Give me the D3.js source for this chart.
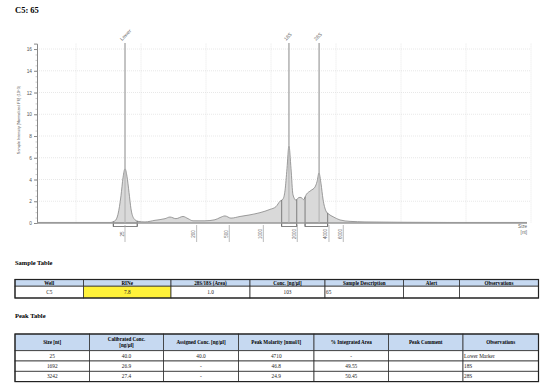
<!DOCTYPE html>
<html><head><meta charset="utf-8">
<script src="https://cdn.jsdelivr.net/npm/d3@7"></script>
<style>body{margin:0;background:#fff}</style>
</head><body>
<svg id="c" width="560" height="392"></svg>
<script>
// ---------- data ----------
const title = "C5: 65";
const traceTime  = [17.0,18.77,21.08,22.62,23.0,23.23,23.46,23.62,23.77,23.92,24.08,24.23,24.46,24.77,25.31,26.08,26.85,27.23,27.69,28.23,28.62,29.0,29.92,30.69,31.08,31.46,31.92,32.62,33.38,34.15,34.92,35.38,35.69,35.92,36.08,36.23,36.38,36.54,36.69,36.92,37.15,37.31,37.5,37.73,38.08,38.38,38.54,38.69,38.85,39.0,39.23,39.46,39.77,40.31,41.08,42.23,44.92,48.77,52.62,54.69];
const traceValue = [0.05,0.05,0.05,0.05,0.2,0.8,2.5,4.2,5.0,4.3,2.8,1.3,0.4,0.15,0.1,0.25,0.4,0.55,0.4,0.6,0.4,0.2,0.2,0.3,0.5,0.65,0.45,0.6,0.75,0.95,1.25,1.5,2.0,2.2,3.0,5.0,7.1,5.0,2.6,2.1,2.35,2.35,2.15,2.65,3.0,3.3,3.8,4.6,3.6,2.2,1.1,0.8,0.58,0.28,0.15,0.1,0.07,0.05,0.05,0.05];
const ladderSizes = [25,200,500,1000,2000,4000,6000];
const ladderTimes = [23.77,29.28,31.79,34.41,37.02,39.46,40.56];
const peakNames = ["Lower","18S","28S"];
const peakTimes = [23.77,36.38,38.70];
const peakStart = [22.87,35.82,37.62];
const peakEnd   = [24.71,36.98,39.36];
const yTicks = [0,2,4,6,8,10,12,14,16];
const timeGrid = [20,25,30,35,40,45,50,55];

const sampleHeaders = ["Well","RINe","28S/18S (Area)","Conc. [ng/µl]","Sample Description","Alert","Observations"];
const sampleRow = ["C5","7.8","1.0","103","65","",""];

const peakHeaders = [["Size [nt]"],["Calibrated Conc.","[ng/µl]"],["Assigned Conc. [ng/µl]"],["Peak Molarity [nmol/l]"],["% Integrated Area"],["Peak Comment"],["Observations"]];
const peakSizes = ["25","1692","3242"];
const calibratedConc = ["40.0","26.9","27.4"];
const assignedConc = ["40.0","-","-"];
const peakMolarity = ["4710","46.8","24.9"];
const integratedArea = ["-","49.55","50.45"];
const peakComment = ["","",""];
const peakObservations = ["Lower Marker","18S","28S"];

// ---------- layout ----------
const svg = d3.select("#c");
svg.append("rect").attr("width",560).attr("height",392).attr("fill","#fff");
const serif = "'Liberation Serif','Times New Roman',serif";
const sans = "'Liberation Sans',Arial,sans-serif";

const x = d3.scaleLinear().domain([17,55]).range([37,531]);
const y = d3.scaleLinear().domain([0,16.5]).range([223,43.6]);

function valAt(t){
  const i = d3.bisectRight(traceTime,t);
  if(i<=0) return traceValue[0];
  if(i>=traceTime.length) return traceValue[traceValue.length-1];
  const t0=traceTime[i-1],t1=traceTime[i];
  return traceValue[i-1]+(traceValue[i]-traceValue[i-1])*(t-t0)/(t1-t0);
}

svg.append("text").attr("x",15).attr("y",13).text(title)
  .attr("font-family",serif).attr("font-weight","bold").attr("font-size",8.5);

// grid
const g = svg.append("g");
g.selectAll(".hg").data(yTicks.filter(d=>d>0)).join("line")
  .attr("x1",37).attr("x2",531).attr("y1",d=>y(d)).attr("y2",d=>y(d))
  .attr("stroke","#d8d8d8").attr("stroke-width",0.6).attr("stroke-dasharray","1,1");
g.selectAll(".vg").data(timeGrid).join("line")
  .attr("x1",d=>x(d)).attr("x2",d=>x(d)).attr("y1",y(16.5)).attr("y2",223)
  .attr("stroke","#d8d8d8").attr("stroke-width",0.6).attr("stroke-dasharray","1,1");

// y axis
const ya = svg.append("g").attr("transform","translate(37,0)")
  .call(d3.axisLeft(y).tickValues(yTicks).tickSize(3).tickPadding(2));
ya.select(".domain").attr("stroke","#888");
ya.selectAll(".tick line").attr("stroke","#888");
ya.selectAll("text").attr("font-family",sans).attr("font-size",4.8).attr("fill","#555");
svg.append("g").attr("transform","translate(37,0)")
  .call(d3.axisLeft(y).tickValues(d3.range(0,16.5,0.5)).tickSize(1.5).tickFormat(""))
  .call(s=>s.select(".domain").remove()).selectAll("line").attr("stroke","#999").attr("stroke-width",0.5);
svg.append("text").attr("transform","translate(20,120) rotate(-90)")
  .attr("text-anchor","middle").attr("font-family",sans).attr("font-size",3.8).attr("fill","#555")
  .text("Sample Intensity [Normalized FU] (10^3)");

// area
const pts = traceTime.map((t,i)=>[t,traceValue[i]]);
svg.append("path").datum(pts)
  .attr("d",d3.area().x(d=>x(d[0])).y0(y(0)).y1(d=>y(d[1])).curve(d3.curveMonotoneX))
  .attr("fill","#d9d9d9");
svg.append("path").datum(pts)
  .attr("d",d3.line().x(d=>x(d[0])).y(d=>y(d[1])).curve(d3.curveMonotoneX))
  .attr("fill","none").attr("stroke","#858585").attr("stroke-width",0.8);

// peak region brackets
peakStart.forEach((s,i)=>{
  const e = peakEnd[i];
  svg.append("rect").attr("x",x(s)).attr("y",y(0)).attr("width",x(e)-x(s)).attr("height",3.5)
    .attr("fill","#fff").attr("stroke","#666").attr("stroke-width",0.8);
  [s,e].forEach(t=>{
    svg.append("line").attr("x1",x(t)).attr("x2",x(t)).attr("y1",y(valAt(t))).attr("y2",y(0)+3.5)
      .attr("stroke","#666").attr("stroke-width",0.8);
  });
});

// baseline
svg.append("line").attr("x1",37).attr("x2",527).attr("y1",y(0)).attr("y2",y(0))
  .attr("stroke","#999").attr("stroke-width",1.6);

// peak lines & labels
peakTimes.forEach((t,i)=>{
  svg.append("line").attr("x1",x(t)).attr("x2",x(t)).attr("y1",y(16.55)).attr("y2",y(valAt(t)))
    .attr("stroke","#aaa").attr("stroke-width",1.4);
  svg.append("line").attr("x1",x(t)).attr("x2",x(t)).attr("y1",y(valAt(t))).attr("y2",y(0))
    .attr("stroke","#b0b0b0").attr("stroke-width",1);
  svg.append("text").attr("transform",`translate(${x(t)-3},41) rotate(-45)`)
    .attr("font-family",sans).attr("font-size",5).attr("fill","#666").text(peakNames[i]);
});

// size ladder ticks
ladderTimes.forEach((t,i)=>{
  svg.append("line").attr("x1",x(t)).attr("x2",x(t)).attr("y1",225).attr("y2",242)
    .attr("stroke","#aaa").attr("stroke-width",0.8);
  svg.append("text").attr("transform",`translate(${x(t)-1.5},234) rotate(-90)`)
    .attr("text-anchor","middle").attr("font-family",sans).attr("font-size",4.6).attr("fill","#666")
    .text(ladderSizes[i]);
});
svg.append("text").attr("x",527).attr("y",228).attr("text-anchor","end")
  .attr("font-family",sans).attr("font-size",4.6).attr("fill","#666").text("Size");
svg.append("text").attr("x",527).attr("y",234).attr("text-anchor","end")
  .attr("font-family",sans).attr("font-size",4.6).attr("fill","#666").text("[nt]");

// ---------- tables ----------
function table(top, cols, headH, headers, rows, rowH, cellFill, leftAlignCols){
  const tg = svg.append("g");
  headers.forEach((h,j)=>{
    tg.append("rect").attr("x",cols[j]).attr("y",top).attr("width",cols[j+1]-cols[j]).attr("height",headH)
      .attr("fill","#c6d9f1").attr("stroke","#333").attr("stroke-width",0.8);
    const lines = Array.isArray(h)?h:[h];
    lines.forEach((ln,k)=>{
      tg.append("text").attr("x",(cols[j]+cols[j+1])/2)
        .attr("y",top+headH/2+1.8+(k-(lines.length-1)/2)*5.8)
        .attr("text-anchor","middle").attr("font-family",serif).attr("font-weight","bold")
        .attr("font-size",5.1).text(ln);
    });
  });
  rows.forEach((r,i)=>{
    const ry = top+headH+i*rowH;
    r.forEach((v,j)=>{
      tg.append("rect").attr("x",cols[j]).attr("y",ry).attr("width",cols[j+1]-cols[j]).attr("height",rowH)
        .attr("fill",cellFill(i,j)).attr("stroke","#333").attr("stroke-width",0.8);
      const left = leftAlignCols.includes(j);
      tg.append("text").attr("x",left?cols[j]+1:(cols[j]+cols[j+1])/2).attr("y",ry+rowH/2+1.9)
        .attr("text-anchor",left?"start":"middle").attr("font-family",serif).attr("font-size",5.3)
        .attr("fill","#222").text(v);
    });
  });
  const totalH = headH+rows.length*rowH;
  tg.append("rect").attr("x",cols[0]).attr("y",top).attr("width",cols[cols.length-1]-cols[0]).attr("height",totalH)
    .attr("fill","none").attr("stroke","#222").attr("stroke-width",1.2);
}

svg.append("text").attr("x",15).attr("y",265).text("Sample Table")
  .attr("font-family",serif).attr("font-weight","bold").attr("font-size",6.5);
table(279.5,[15,83.5,171,250,325,403.5,459.5,538.5],6.7,sampleHeaders,[sampleRow],11.8,
  (i,j)=>j===1?"#fff23a":"#fff",[4]);

svg.append("text").attr("x",15).attr("y",318).text("Peak Table")
  .attr("font-family",serif).attr("font-weight","bold").attr("font-size",6.5);
const peakRows = peakSizes.map((s,i)=>[s,calibratedConc[i],assignedConc[i],peakMolarity[i],integratedArea[i],peakComment[i],peakObservations[i]]);
table(334,[15,89.5,163.5,238.5,314,388.5,463,538.5],16.7,peakHeaders,peakRows,10.3,()=>"#fff",[6]);
</script>
</body></html>
